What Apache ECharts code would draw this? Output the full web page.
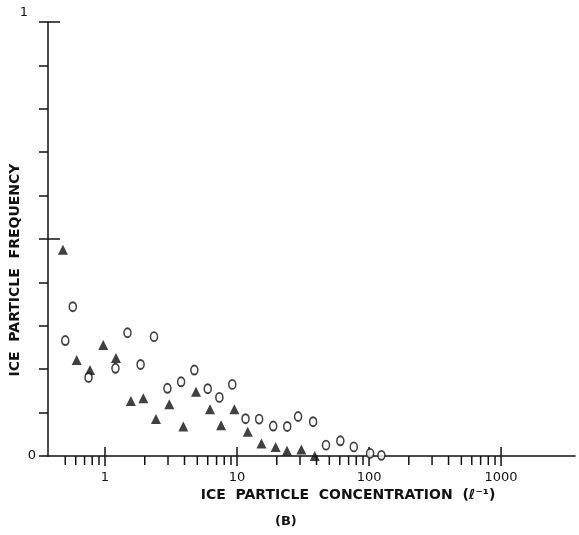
<!DOCTYPE html>
<html><head><meta charset="utf-8">
<script src="https://cdn.jsdelivr.net/npm/echarts@6/dist/echarts.min.js"></script>
<style>html,body{margin:0;padding:0;background:#fff}#c{width:579px;height:535px}</style>
</head><body><div id="c"></div>
<script>
// Filled triangles
const triangleX = [0.48, 0.61, 0.77, 0.97, 1.21, 1.57, 1.95, 2.43, 3.07, 3.92, 4.89, 6.24, 7.57, 9.55, 12.05, 15.3, 19.6, 23.9, 30.7, 38.8];
const triangleY = [0.475, 0.221, 0.198, 0.256, 0.226, 0.127, 0.133, 0.085, 0.119, 0.068, 0.148, 0.108, 0.071, 0.108, 0.056, 0.029, 0.021, 0.012, 0.015, 0.0];
// Open circles
const circleX = [0.50, 0.57, 0.75, 1.2, 1.48, 1.86, 2.35, 2.97, 3.77, 4.75, 6.0, 7.35, 9.2, 11.6, 14.7, 18.8, 24.0, 29.0, 37.7, 47.2, 60.6, 76.6, 101.8, 124];
const circleY = [0.266, 0.344, 0.181, 0.202, 0.284, 0.211, 0.275, 0.156, 0.171, 0.198, 0.155, 0.135, 0.165, 0.086, 0.085, 0.069, 0.068, 0.091, 0.079, 0.025, 0.035, 0.021, 0.006, 0.0015];
// Axis ticks / labels
const xTickLabels = [1, 10, 100, 1000];
const xMinorTicks = [0.5, 0.6, 0.7, 0.8, 0.9, 2, 3, 4, 5, 6, 7, 8, 9, 20, 30, 40, 50, 60, 70, 80, 90, 200, 300, 400, 500, 600, 700, 800, 900];
const yTickLabels = [0, 1];
const yCrossTicks = [0.5, 1];

const X_MIN = 0.37, X_MAX = 3630;
const INK = '#111';
const FONT = 'DejaVu Sans';

const chart = echarts.init(document.getElementById('c'), null, {renderer: 'canvas'});

function xTickSeries(vals, up, down) {
  return {
    type: 'custom', coordinateSystem: 'cartesian2d', silent: true, clip: false, z: 5,
    data: vals.map(v => [v, 0]),
    renderItem: (params, api) => {
      const p = api.coord([api.value(0), api.value(1)]);
      return {type: 'line', shape: {x1: p[0], y1: p[1] - up, x2: p[0], y2: p[1] + down},
              style: {stroke: INK, lineWidth: 1.5}};
    }
  };
}
const yCrossSeries = {
  type: 'custom', coordinateSystem: 'cartesian2d', silent: true, clip: false, z: 5,
  data: yCrossTicks.map(v => [X_MIN, v]),
  renderItem: (params, api) => {
    const p = api.coord([api.value(0), api.value(1)]);
    return {type: 'line', shape: {x1: p[0], y1: p[1], x2: p[0] + 12, y2: p[1]},
            style: {stroke: INK, lineWidth: 1.5}};
  }
};

const findLabel = (v, arr) => arr.find(t => Math.abs(v - t) <= Math.abs(t) * 1e-6 + 1e-9);

chart.setOption({
  backgroundColor: '#fff',
  animation: false,
  title: {
    text: '(B)', left: 270, top: 510,
    textStyle: {fontFamily: FONT, fontSize: 13, fontWeight: 'bold', color: INK}
  },
  grid: {left: 48, right: 4, top: 22, bottom: 79, containLabel: false, outerBoundsMode: 'none'},
  xAxis: {
    type: 'log', logBase: 10, min: X_MIN, max: X_MAX,
    axisLine: {lineStyle: {color: INK, width: 1.5}},
    axisTick: {show: false},
    splitLine: {show: false},
    axisLabel: {
      margin: 15, color: INK, fontFamily: FONT, fontSize: 13,
      formatter: v => { const t = findLabel(v, xTickLabels); return t === undefined ? '' : String(t); }
    },
    name: 'ICE  PARTICLE  CONCENTRATION  (ℓ⁻¹)',
    nameLocation: 'middle', nameGap: 32, nameMoveOverlap: false,
    nameTextStyle: {fontFamily: FONT, fontSize: 14, fontWeight: 'bold', color: INK, padding: [0, 0, 0, 73]}
  },
  yAxis: {
    type: 'value', min: 0, max: 1, interval: 0.1,
    axisLine: {lineStyle: {color: INK, width: 1.5}},
    axisTick: {show: true, inside: false, length: 9, lineStyle: {color: INK, width: 1.5}},
    splitLine: {show: false},
    axisLabel: {
      margin: 12, color: INK, fontFamily: FONT, fontSize: 13,
      formatter: v => { const t = findLabel(v, yTickLabels); return t === undefined ? '' : (t === 1 ? '{t|1}' : String(t)); },
      rich: {t: {fontFamily: FONT, fontSize: 13, color: INK, padding: [0, 8, 18, 0]}}
    },
    name: 'ICE  PARTICLE  FREQUENCY',
    nameLocation: 'middle', nameGap: 26, nameRotate: 90, nameMoveOverlap: false,
    nameTextStyle: {fontFamily: FONT, fontSize: 14, fontWeight: 'bold', color: INK, padding: [0, 62, 0, 0]}
  },
  series: [
    xTickSeries(xTickLabels, 9, 10),
    xTickSeries(xMinorTicks, 0, 9),
    yCrossSeries,
    {
      type: 'scatter', symbol: 'triangle', symbolSize: [10, 10],
      data: triangleX.map((x, i) => [x, triangleY[i]]),
      itemStyle: {color: INK}, z: 10
    },
    {
      type: 'scatter', symbol: 'circle', symbolSize: [7, 9],
      data: circleX.map((x, i) => [x, circleY[i]]),
      itemStyle: {color: '#fff', borderColor: INK, borderWidth: 1.7}, z: 10
    }
  ]
});
</script></body></html>
